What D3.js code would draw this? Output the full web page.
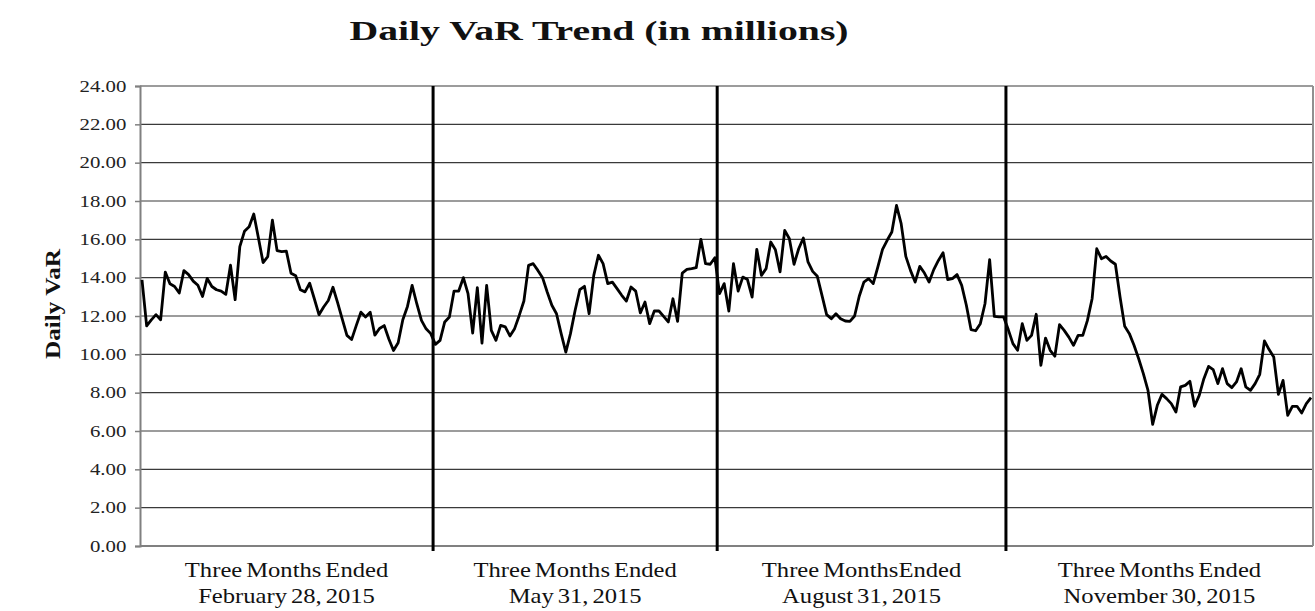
<!DOCTYPE html>
<html>
<head>
<meta charset="utf-8">
<style>
	body { margin: 0; background: #fff; }
	text { font-family: "Liberation Serif", "Times New Roman", serif; }
</style>
</head>
<body>
<svg width="1315" height="611"></svg>
<script src="https://d3js.org/d3.v7.min.js"></script>
<script>

var title = 'Daily VaR Trend (in millions)',
	yLabel = 'Daily VaR'

var yTicks = [0, 2, 4, 6, 8, 10, 12, 14, 16, 18, 20, 22, 24]

var quarterLabels = [
	['Three Months Ended', 'February 28, 2015'],
	['Three Months Ended', 'May 31, 2015'],
	['Three MonthsEnded', 'August 31, 2015'],
	['Three Months Ended', 'November 30, 2015']
]

// daily values, one array per quarter
var q1 = [13.89, 11.48, 11.8, 12.07, 11.8, 14.29, 13.68, 13.54, 13.2, 14.37,
	14.16, 13.82, 13.6, 13.02, 13.96, 13.54, 13.37, 13.3, 13.13, 14.65,
	12.85, 15.62, 16.42, 16.66, 17.32, 16.07, 14.79, 15.1, 17.0, 15.41,
	15.36, 15.38, 14.23, 14.1, 13.37, 13.26, 13.71, 12.9, 12.07, 12.47,
	12.81, 13.5, 12.7, 11.84, 10.99, 10.77, 11.5, 12.2, 11.95, 12.2,
	11.0, 11.35, 11.5, 10.8, 10.2, 10.6, 11.8, 12.5, 13.6, 12.64,
	11.77, 11.33, 11.08]

var q2 = [10.52, 10.73, 11.69, 11.95, 13.3, 13.3, 14.0, 13.17, 11.11, 13.48,
	10.59, 13.6, 11.25, 10.73, 11.51, 11.43, 10.96, 11.34, 12.03, 12.78,
	14.64, 14.73, 14.38, 14.0, 13.25, 12.56, 12.12, 11.08, 10.12, 11.08,
	12.3, 13.37, 13.55, 12.12, 14.12, 15.17, 14.73, 13.69, 13.77, 13.43,
	13.08, 12.78, 13.51, 13.3, 12.16, 12.73, 11.6, 12.26, 12.26, 11.98,
	11.69, 12.9, 11.72, 14.24, 14.43, 14.47, 14.52, 16.0, 14.73, 14.7,
	15.04]

var q3 = [13.17, 13.69, 12.26, 14.73, 13.3, 14.03, 13.9, 12.99, 15.48, 14.12,
	14.47, 15.86, 15.46, 14.3, 16.47, 16.03, 14.7, 15.51, 16.07, 14.82,
	14.33, 14.07, 13.08, 12.07, 11.86, 12.12, 11.86, 11.74, 11.72, 12.0,
	13.03, 13.77, 13.95, 13.69, 14.56, 15.48, 15.95, 16.38, 17.77, 16.82,
	15.11, 14.38, 13.77, 14.59, 14.24, 13.77, 14.42, 14.9, 15.3, 13.9,
	13.95, 14.16, 13.6, 12.56, 11.29, 11.23, 11.6, 12.64, 14.94, 11.98,
	11.95, 11.95]

var q4 = [11.29, 10.56, 10.21, 11.6, 10.73, 10.99, 12.09, 9.43, 10.85, 10.21,
	9.9, 11.55, 11.25, 10.9, 10.47, 10.99, 10.99, 11.77, 12.9, 15.51,
	14.99, 15.11, 14.87, 14.7, 12.99, 11.46, 11.08, 10.47, 9.77, 8.99,
	8.12, 6.35, 7.34, 7.91, 7.69, 7.43, 6.99, 8.3, 8.38, 8.59,
	7.29, 7.86, 8.73, 9.37, 9.2, 8.47, 9.25, 8.47, 8.26, 8.56,
	9.25, 8.3, 8.12, 8.47, 8.96, 10.7, 10.25, 9.86, 7.91, 8.64,
	6.82, 7.29, 7.29, 6.94, 7.43, 7.74]

var quarters = [q1, q2, q3, q4]

var width = 1315,
	height = 611,
	margin = {top: 86, right: 2, bottom: 65, left: 140}

var svg = d3.select('svg')

var values = [].concat(...quarters)

// index where each quarter starts
var starts = []
var n = 0
quarters.forEach(function(q) { starts.push(n); n += q.length })

var x = d3.scaleLinear()
	.domain([0, values.length - 1])
	.range([margin.left + 2, width - margin.right - 2])

var y = d3.scaleLinear()
	.domain([0, 24])
	.range([height - margin.bottom, margin.top])

var left = margin.left,
	right = width - margin.right,
	bottom = height - margin.bottom

// gridlines
svg.append('g')
	.selectAll('line')
	.data(yTicks.filter(d => d > 0))
	.enter().append('line')
	.attr('x1', left).attr('x2', right)
	.attr('y1', d => y(d)).attr('y2', d => y(d))
	.style('stroke', '#3a3a3a')
	.style('stroke-width', 1.2)

// y axis
var yAxis = d3.axisLeft(y)
	.tickValues(yTicks)
	.tickFormat(d3.format('.2f'))
	.tickSize(5)

var ya = svg.append('g')
	.attr('transform', 'translate(' + left + ',0)')
	.call(yAxis)

ya.select('.domain').style('stroke', '#808080').style('stroke-width', 2)
ya.selectAll('.tick line').style('stroke', '#808080').style('stroke-width', 1.5)
// the source picture is stretched sideways, so widen the tick text
ya.selectAll('.tick text')
	.attr('x', -10.5)
	.attr('transform', 'scale(1.3,1)')
	.style('font-family', '"Liberation Serif", serif')
	.style('font-size', '16px')
	.style('fill', '#222')

// frame: bottom and right
svg.append('line')
	.attr('x1', left).attr('x2', right)
	.attr('y1', bottom).attr('y2', bottom)
	.style('stroke', '#808080').style('stroke-width', 2)

svg.append('line')
	.attr('x1', right).attr('x2', right)
	.attr('y1', margin.top).attr('y2', bottom)
	.style('stroke', '#909090').style('stroke-width', 2)

// quarter dividers
svg.append('g')
	.selectAll('line')
	.data(starts.slice(1))
	.enter().append('line')
	.attr('x1', d => x(d - 0.5)).attr('x2', d => x(d - 0.5))
	.attr('y1', margin.top).attr('y2', bottom + 5)
	.style('stroke', '#000')
	.style('stroke-width', 3)

// VaR line
var line = d3.line()
	.x((d, i) => x(i))
	.y(d => y(d))

svg.append('path')
	.datum(values)
	.attr('d', line)
	.style('fill', 'none')
	.style('stroke', '#000')
	.style('stroke-width', 2.8)
	.style('stroke-linejoin', 'round')

// quarter labels
var bounds = [left].concat(starts.slice(1).map(d => x(d - 0.5)), [right])

quarterLabels.forEach(function(lines, i) {
	var cx = (bounds[i] + bounds[i + 1]) / 2
	var t = svg.append('text')
		.attr('transform', 'translate(' + cx + ',0) scale(1.12,1)')
		.attr('text-anchor', 'middle')
		.style('font-size', '22px')
		.style('word-spacing', '-2px')
		.style('fill', '#111')
	lines.forEach(function(s, j) {
		t.append('tspan')
			.attr('x', 0)
			.attr('y', 577 + j * 26)
			.text(s)
	})
})

// titles
svg.append('text')
	.attr('transform', 'translate(599,40) scale(1.42,1)')
	.attr('text-anchor', 'middle')
	.style('font-size', '28px')
	.style('font-weight', 'bold')
	.style('fill', '#111')
	.text(title)

svg.append('text')
	.attr('transform', 'translate(60,304) rotate(-90) scale(1.2,1)')
	.attr('text-anchor', 'middle')
	.style('font-size', '21px')
	.style('font-weight', 'bold')
	.style('fill', '#111')
	.text(yLabel)

</script>
</body>
</html>
